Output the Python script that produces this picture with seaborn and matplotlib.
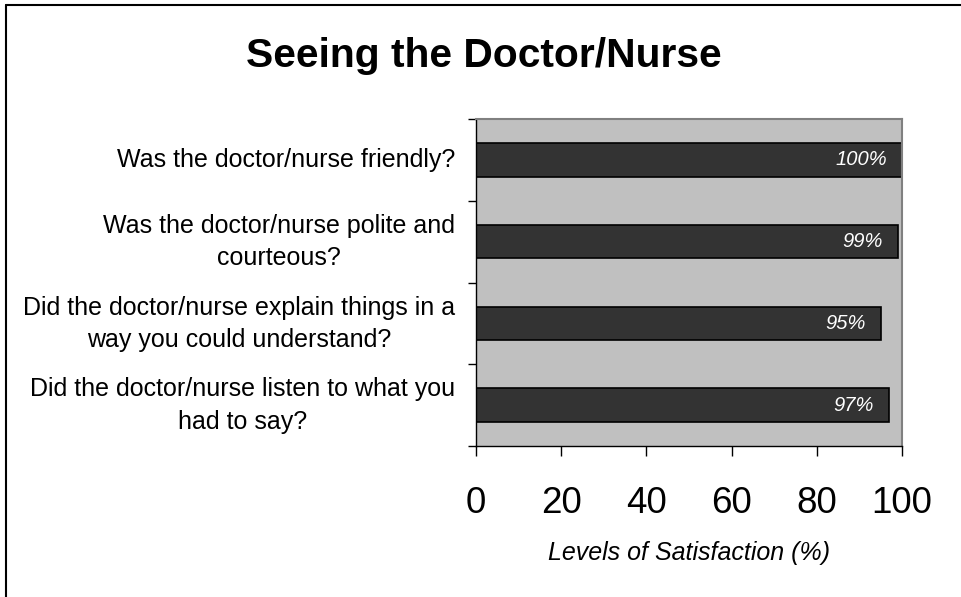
import numpy as np
import pandas as pd
import seaborn as sns
import matplotlib.pyplot as plt
from matplotlib.lines import Line2D
from matplotlib.transforms import ScaledTranslation

questions = [
    "Was the doctor/nurse friendly?",
    "Was the doctor/nurse polite and\ncourteous?",
    "Did the doctor/nurse explain things in a\nway you could understand?",
    "Did the doctor/nurse listen to what you\nhad to say?",
]
satisfaction = [100, 99, 95, 97]
value_labels = ["100%", "99%", "95%", "97%"]
x_ticks = [0, 20, 40, 60, 80, 100]

sns.set_style("white")
plt.rcParams['font.family'] = ['Liberation Sans', 'DejaVu Sans']
plt.rcParams['text.color'] = 'black'
plt.rcParams['xtick.color'] = 'black'
plt.rcParams['ytick.color'] = 'black'

df = pd.DataFrame({"question": questions, "satisfaction": satisfaction})

fig = plt.figure(figsize=(9.62, 5.97), dpi=100)
ax = fig.add_axes([0.4948, 0.2529, 0.4428, 0.5477])
ax.set_facecolor("#C0C0C0")

sns.barplot(data=df, y="question", x="satisfaction", orient="h", ax=ax,
            color="#333333", saturation=1, width=0.41,
            edgecolor="black", linewidth=1.2)

ax.set_xlim(0, 100)
ax.set_ylim(len(questions) - 0.5, -0.5)
ax.set_xticks(x_ticks)
ax.set_xticklabels([str(t) for t in x_ticks], fontsize=26.5)
ax.tick_params(axis="x", bottom=True, direction="out", length=7.5, width=1,
               color="black", labelcolor="black", pad=21)

# y labels on major ticks, tick marks at band boundaries
ax.set_yticks(range(len(questions)))
ax.set_yticklabels(questions, fontsize=18, ha="right", multialignment="center",
                   linespacing=1.45, color="black")
ax.tick_params(axis="y", which="major", left=True, length=0, pad=15)
ax.set_yticks(np.arange(-0.5, len(questions)), minor=True)
ax.tick_params(axis="y", which="minor", left=True, direction="out", length=6,
               width=1, color="black")

# nudge the wrapped labels up a little
for lbl in ax.get_yticklabels():
    shift = 4.5 if "\n" in lbl.get_text() else 1.5
    lbl.set_transform(lbl.get_transform() + ScaledTranslation(0, shift / 72, fig.dpi_scale_trans))

ax.set_ylabel("")
ax.set_xlabel("Levels of Satisfaction (%)", fontsize=18, style="italic",
              labelpad=15, color="black")

for s in ["left", "bottom"]:
    ax.spines[s].set_color("black")
    ax.spines[s].set_linewidth(1)
for s in ["top", "right"]:
    ax.spines[s].set_visible(True)
    ax.spines[s].set_color("#808080")
    ax.spines[s].set_linewidth(1.5)

for i, (v, lab) in enumerate(zip(satisfaction, value_labels)):
    ax.annotate(lab, xy=(v, i), xytext=(-11, 0), textcoords="offset points",
                ha="right", va="center", color="white", fontsize=14.5, style="italic")

fig.text(0.503, 0.907, "Seeing the Doctor/Nurse", fontsize=29.3, fontweight="bold",
         ha="center", va="center", color="black")

# chart border (top and left)
fig.add_artist(Line2D([0.006, 1.0], [0.9915, 0.9915], color="black", lw=1.5, transform=fig.transFigure))
fig.add_artist(Line2D([0.0065, 0.0065], [0.0, 0.9915], color="black", lw=1.5, transform=fig.transFigure))

fig.savefig("out.png", dpi=100)
